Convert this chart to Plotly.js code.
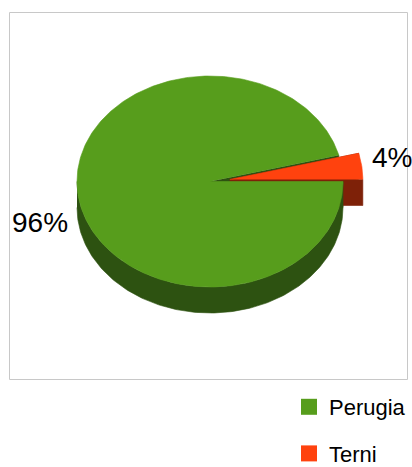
<!DOCTYPE html>
<html>
<head>
<meta charset="utf-8">
<script src="https://cdn.plot.ly/plotly-3.0.1.min.js"></script>
<style>html,body{margin:0;padding:0;background:#fff;}#chart{width:412px;height:467px;}</style>
</head>
<body>
<div id="chart"></div>
<script>
// ---- data ----
const labels = ['Perugia', 'Terni'];
const values = [96, 4];
// ---- style ----
const topColors = ['#579d1c', '#ff420e'];
const sideColors = ['#2d5211', '#7e2108'];
const explodePx = [0, 20];

// geometry of the drawn 3D pie (pixel-like data space)
const W = 412, H = 467;
const cx = 210, cy = 181.5, rx = 133, ry = 105.5, depth = 26;
const FONT = 'Liberation Sans, Arial, sans-serif';

const total = values.reduce((a, b) => a + b, 0);
const deg = Math.PI / 180;

function pt(theta, ox, oy, dz) {
  return [cx + ox + rx * Math.cos(theta), cy + oy - ry * Math.sin(theta) + dz];
}
function arc(a0, a1, ox, oy, dz) {
  const n = Math.max(4, Math.ceil(Math.abs(a1 - a0) / (1 * deg)));
  const out = [];
  for (let i = 0; i <= n; i++) out.push(pt(a0 + (a1 - a0) * i / n, ox, oy, dz));
  return out;
}
function poly(points, color, name) {
  return {
    type: 'scatter', mode: 'lines', fill: 'toself', fillcolor: color,
    x: points.map(p => p[0]), y: points.map(p => p[1]),
    line: {color: color, width: 0.6}, showlegend: false, hoverinfo: 'skip', name: name
  };
}

// slices go clockwise from 0 deg (3 o'clock)
const slices = [];
let a = 0;
values.forEach((v, i) => {
  const sweep = v / total * 2 * Math.PI;
  const a0 = a, a1 = a - sweep;
  const mid = (a0 + a1) / 2;
  const ox = explodePx[i] * Math.cos(mid);
  const oy = -explodePx[i] * Math.sin(mid) * ry / rx;
  slices.push({i, a0, a1, mid, ox, oy});
  a = a1;
});

// painter's order: cut faces of unexploded slices, then exploded slices, then walls + tops
const cutLayer = [], explodedLayer = [], frontLayer = [];
slices.forEach(s => {
  const c = [cx + s.ox, cy + s.oy];
  const cuts = [], walls = [];
  [s.a0, s.a1].forEach(ang => {
    const e = pt(ang, s.ox, s.oy, 0);
    const e2 = pt(ang, s.ox, s.oy, depth);
    cuts.push(poly([c, e, e2, [c[0], c[1] + depth]], sideColors[s.i], labels[s.i]));
  });
  const lo = Math.min(s.a0, s.a1), hi = Math.max(s.a0, s.a1);
  for (let k = -2; k <= 1; k++) {
    const f0 = -Math.PI + k * 2 * Math.PI, f1 = k * 2 * Math.PI;
    const b0 = Math.max(lo, f0), b1 = Math.min(hi, f1);
    if (b1 > b0) {
      const top = arc(b0, b1, s.ox, s.oy, 0);
      const bot = arc(b1, b0, s.ox, s.oy, depth);
      walls.push(poly(top.concat(bot), sideColors[s.i], labels[s.i]));
    }
  }
  const topT = poly([c].concat(arc(s.a0, s.a1, s.ox, s.oy, 0)), topColors[s.i], labels[s.i]);
  if (explodePx[s.i] > 0) { explodedLayer.push(...cuts, ...walls, topT); }
  else { cutLayer.push(...cuts); frontLayer.push(...walls, topT); }
});

// legend entries
const legendTraces = labels.map((l, i) => ({
  type: 'scatter', mode: 'markers', x: [null], y: [null], name: l,
  legendgroup: l, marker: {symbol: 'square', size: 16, color: topColors[i]},
  showlegend: true, hoverinfo: 'skip'
}));

// percent labels
const annotations = slices.map(s => {
  const gap = 8;
  const cos = Math.cos(s.mid), sin = Math.sin(s.mid);
  const x = cx + s.ox + (rx + gap) * cos;
  const y = cy + s.oy - ry * sin + (sin < 0 ? depth + 2 : -9);
  return {
    x: x, y: y, xref: 'x', yref: 'y', showarrow: false,
    text: Math.round(values[s.i] / total * 100) + '%',
    xanchor: cos < 0 ? 'right' : 'left', yanchor: 'middle',
    font: {family: FONT, size: 28, color: '#000'}
  };
});

const layout = {
  width: W, height: H,
  margin: {l: 0, r: 0, t: 0, b: 0, pad: 0, autoexpand: false},
  paper_bgcolor: '#fff', plot_bgcolor: '#fff',
  xaxis: {range: [0, W], visible: false, fixedrange: true},
  yaxis: {range: [H, 0], visible: false, fixedrange: true},
  showlegend: true,
  legend: {
    x: 289 / W, xanchor: 'left', y: 1 - 386 / H, yanchor: 'top',
    font: {family: FONT, size: 22, color: '#000'},
    traceorder: 'grouped', tracegroupgap: 15, bgcolor: 'rgba(0,0,0,0)',
    itemclick: false, itemdoubleclick: false
  },
  shapes: [{type: 'rect', xref: 'x', yref: 'y', x0: 9.5, x1: 407.5, y0: 12.5, y1: 379.5,
    line: {color: '#c8c8c8', width: 1}, layer: 'below'}],
  annotations: annotations,
  hovermode: false
};

Plotly.newPlot('chart', cutLayer.concat(explodedLayer, frontLayer, legendTraces), layout, {staticPlot: true, displayModeBar: false});
</script>
</body>
</html>
